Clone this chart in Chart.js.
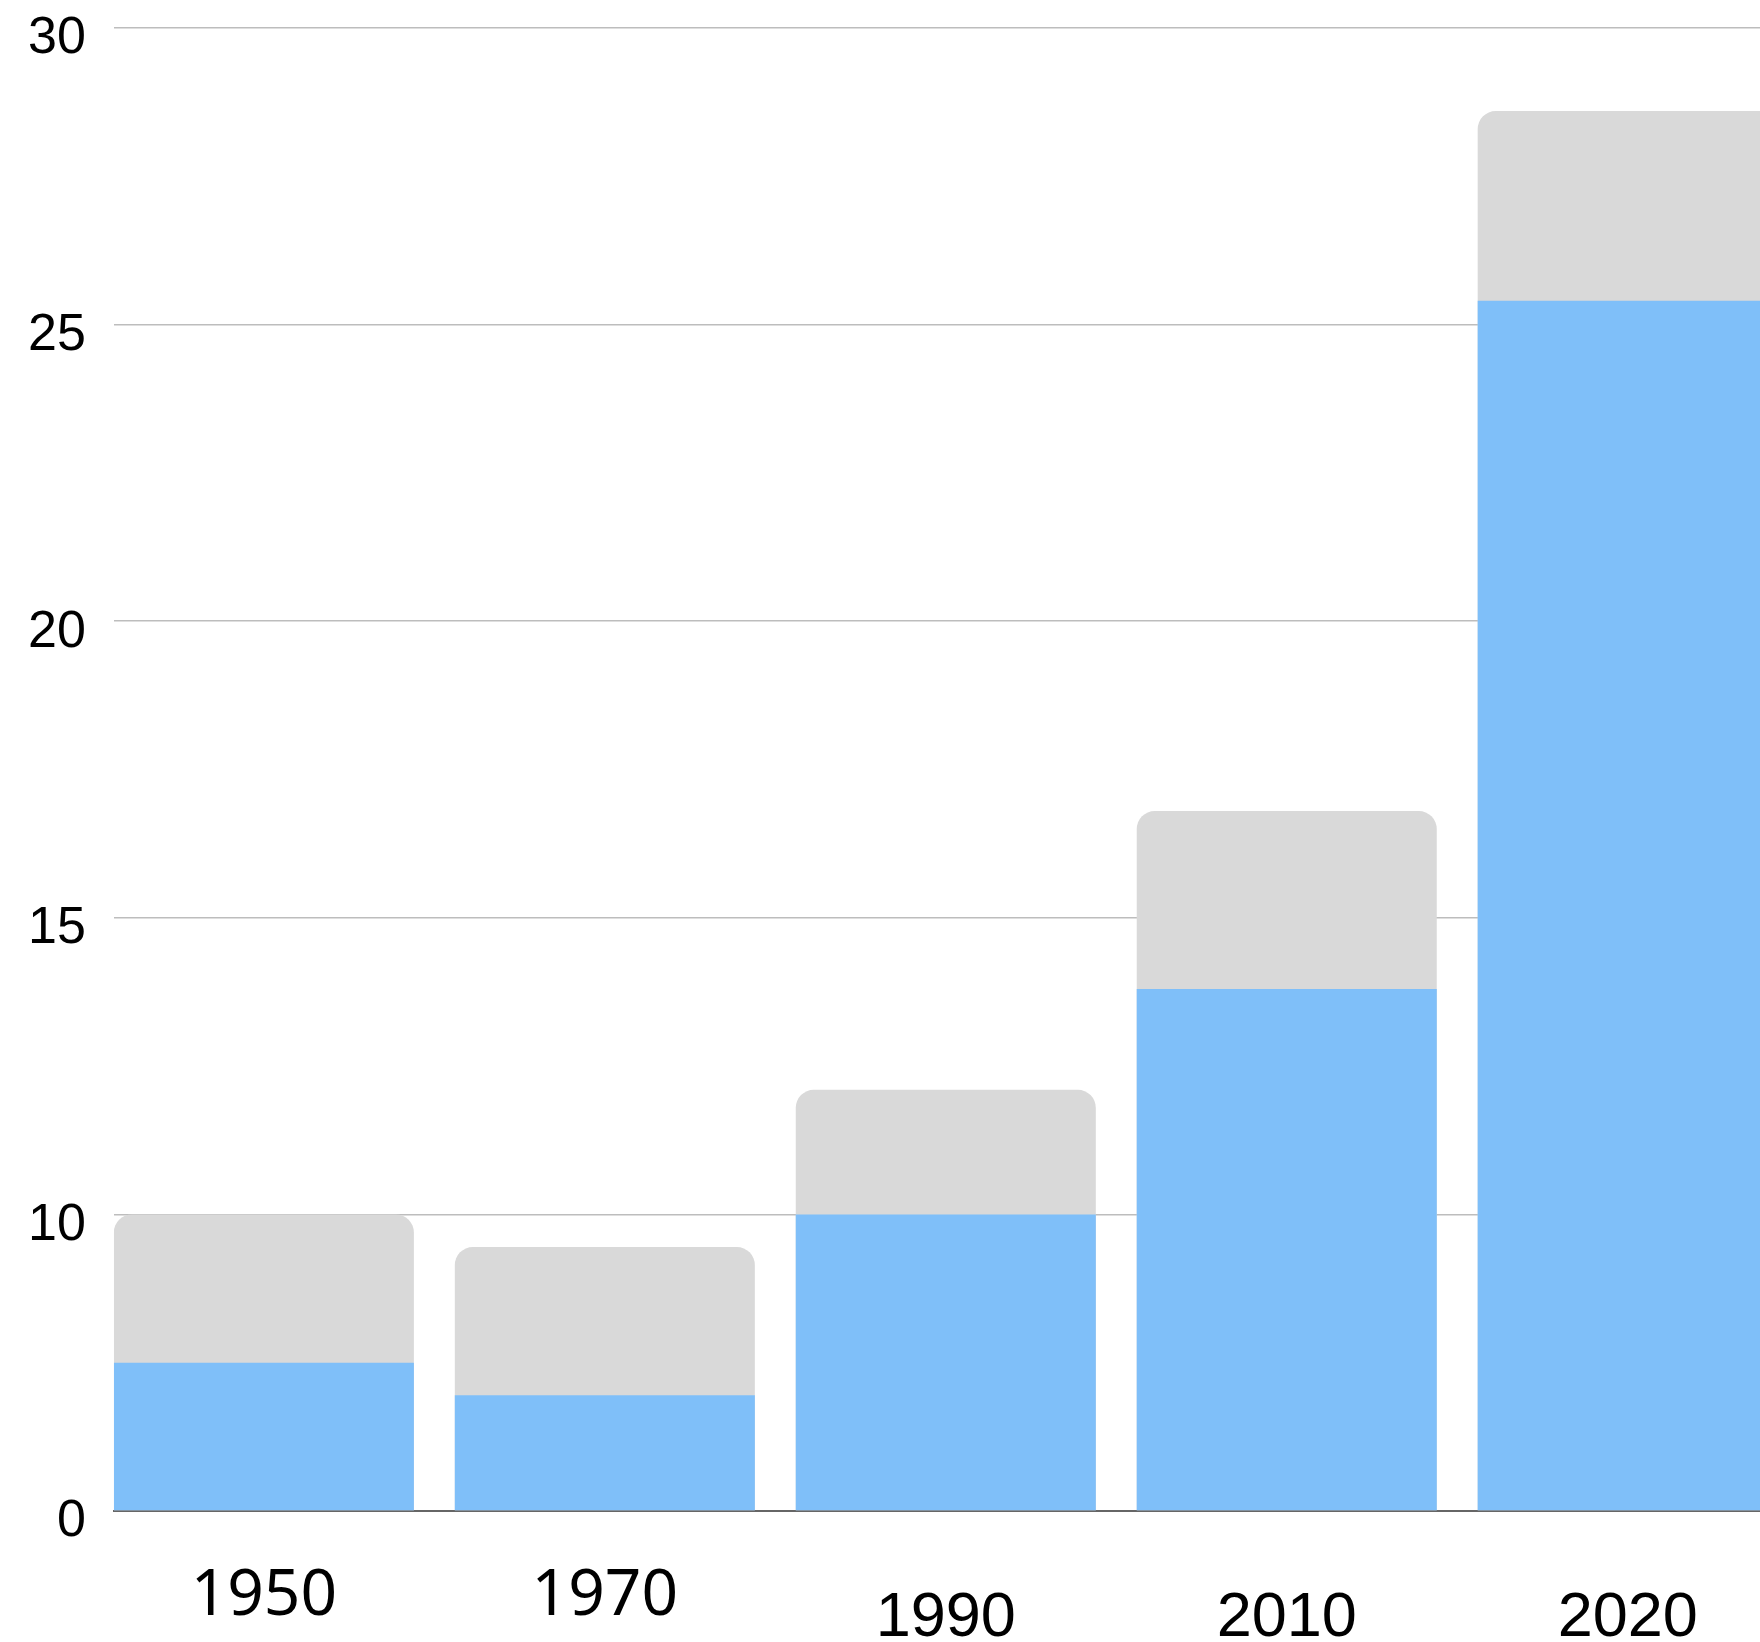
<!DOCTYPE html>
<html>
<head>
<meta charset="utf-8">
<script src="https://cdn.jsdelivr.net/npm/chart.js@4/dist/chart.umd.min.js"></script>
<style>
  html, body { margin: 0; padding: 0; background: #fff; }
  #wrap { width: 1760px; height: 1642px; overflow: hidden; }
</style>
</head>
<body>
<div id="wrap"><canvas id="barChart" width="1760" height="1727"></canvas></div>
<script>
// decades on the x axis
var years = ['1950', '1970', '1990', '2010', '2020']
// grey bar behind (total) and blue bar in front
var totalValues = [10.0, 8.9, 12.1, 16.8, 28.6]
var blueValues = [5.0, 3.9, 10.0, 13.8, 25.4]
// the y axis is broken: 0 -> 10 takes the same room as one 5 step
var yTicks = [0, 10, 15, 20, 25, 30]

// linear scale where everything under 10 is squeezed into one step
class BrokenLinearScale extends Chart.LinearScale {
    squash(v) {
        return v < 10 ? 5 + v / 2 : v
    }
    getPixelForValue(v) {
        if (v === null || v === undefined) return NaN
        return super.getPixelForValue(this.squash(v))
    }
    getValueForPixel(p) {
        var v = super.getValueForPixel(p)
        return v < 10 ? (v - 5) * 2 : v
    }
    buildTicks() {
        return yTicks.map(function (v) { return { value: v } })
    }
}
BrokenLinearScale.id = 'brokenLinear'
Chart.register(BrokenLinearScale)

function toPoints(vals) {
    return vals.map(function (v, i) { return { x: i, y: v } })
}

var ctx = document.getElementById('barChart').getContext('2d')

var chart = new Chart(ctx, {
    type: 'bar',
    data: {
        datasets: [
            {
                label: 'blue',
                data: toPoints(blueValues),
                backgroundColor: '#7fbff9',
                borderWidth: 0,
                grouped: false,
                categoryPercentage: 1,
                barPercentage: 0.88
            },
            {
                label: 'total',
                data: toPoints(totalValues),
                backgroundColor: '#d9d9d9',
                borderWidth: 0,
                borderRadius: { topLeft: 18, topRight: 18, bottomLeft: 0, bottomRight: 0 },
                borderSkipped: false,
                grouped: false,
                categoryPercentage: 1,
                barPercentage: 0.88
            }
        ]
    },
    options: {
        responsive: false,
        animation: false,
        layout: { padding: { left: 0, top: 0, right: 0, bottom: 0 } },
        plugins: {
            legend: { display: false },
            tooltip: { enabled: false }
        },
        scales: {
            x: {
                type: 'linear',
                position: 'bottom',
                bounds: 'data',
                offset: false,
                min: -0.44,
                max: 4.388,
                afterBuildTicks: function (scale) {
                    scale.ticks = years.map(function (y, i) { return { value: i } })
                },
                grid: { display: false, drawTicks: false },
                border: { display: true, color: '#666666', width: 2 },
                ticks: {
                    autoSkip: false,
                    maxRotation: 0,
                    padding: 54,
                    color: '#000',
                    callback: function (v) { return years[v] !== undefined ? years[v] : '' },
                    font: function (c) {
                        if (c.index < 2) {
                            return { family: '"Noto Sans", "Open Sans", sans-serif', size: 64, lineHeight: '64px' }
                        }
                        return { family: '"Liberation Sans", Arial, sans-serif', size: 63, lineHeight: '108px' }
                    }
                }
            },
            y: {
                type: 'brokenLinear',
                min: 5,
                max: 30,
                grid: { color: '#bdbdbd', lineWidth: 1.5, drawTicks: false },
                border: { display: false },
                ticks: {
                    padding: 28,
                    labelOffset: 11,
                    color: '#000',
                    font: { family: '"Liberation Sans", Arial, sans-serif', size: 52, lineHeight: '0px' },
                    callback: function (v) { return String(v) }
                }
            }
        }
    }
})
</script>
</body>
</html>
